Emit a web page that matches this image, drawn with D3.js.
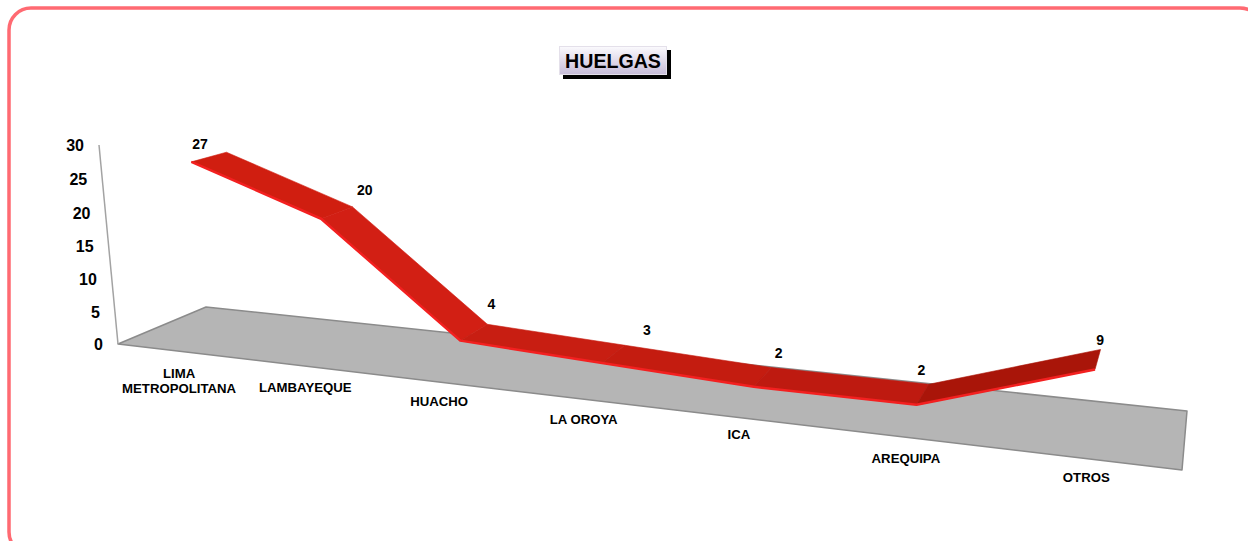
<!DOCTYPE html>
<html>
<head>
<meta charset="utf-8">
<script src="https://cdn.jsdelivr.net/npm/d3@7"></script>
<style>
    html, body { margin: 0; padding: 0; background: #fff; overflow: hidden; }
    text { font-family: "Liberation Sans", Arial, sans-serif; font-weight: bold; fill: #000; }
</style>
</head>
<body>
<script>
const categories = ['LIMA METROPOLITANA', 'LAMBAYEQUE', 'HUACHO', 'LA OROYA', 'ICA', 'AREQUIPA', 'OTROS'];
const huelgas = [27, 20, 4, 3, 2, 2, 9];
const yTicks = [0, 5, 10, 15, 20, 25, 30];
const segmentColors = ['#d01e10', '#d21f14', '#c81e12', '#c41c10', '#be1a10', '#a91509'];

const width = 1248, height = 541;

const svg = d3.select('body').append('svg')
    .attr('width', width)
    .attr('height', height);

// Scales, all in the unit box of the 3D chart
const x = d3.scaleBand().domain(categories).range([0, 1]);
const y = d3.scaleLinear().domain([0, 30]).range([0, 1]);
const depth = { front: 0.31, back: 0.71 };

// Perspective camera: floor corners and the axis top on screen, solved as a homography
const origin = [118, 344], right = [1182, 470], far = [1187, 411], back = [206, 307], top3d = [99, 145];
const sx = origin[0] - right[0] + far[0] - back[0], sy = origin[1] - right[1] + far[1] - back[1];
const d1 = [right[0] - far[0], right[1] - far[1]], d2 = [back[0] - far[0], back[1] - far[1]];
const det = d1[0] * d2[1] - d2[0] * d1[1];
const g = (sx * d2[1] - d2[0] * sy) / det;
const k = (d1[0] * sy - sx * d1[1]) / det;
const m = -0.03;

function project(u, v, h) {
    const w = 1 + g * u + k * v + m * h;
    return [0, 1].map(i => (origin[i]
        + (right[i] * (1 + g) - origin[i]) * u
        + (back[i] * (1 + k) - origin[i]) * v
        + (top3d[i] * (1 + m) - origin[i]) * h) / w);
}

const mid = c => x(c) + x.bandwidth() / 2;
const path = d3.line();

// Frame, runs off the right and bottom of the picture
svg.append('rect')
    .attr('x', 9).attr('y', 8)
    .attr('width', 1253).attr('height', 546)
    .attr('rx', 22)
    .attr('fill', '#fff')
    .attr('stroke', '#ff6a72')
    .attr('stroke-width', 3.5);

// Title
const grad = svg.append('defs').append('linearGradient')
    .attr('id', 'titleFill')
    .attr('x1', 0).attr('y1', 0).attr('x2', 0).attr('y2', 1);
grad.append('stop').attr('offset', 0).attr('stop-color', '#fbfafd');
grad.append('stop').attr('offset', 1).attr('stop-color', '#c6bcd8');

svg.append('rect')
    .attr('x', 563).attr('y', 50)
    .attr('width', 108).attr('height', 29)
    .attr('fill', '#000');
svg.append('rect')
    .attr('x', 559.5).attr('y', 46.5)
    .attr('width', 107).attr('height', 28)
    .attr('fill', 'url(#titleFill)')
    .attr('stroke', '#e4e0ea');
svg.append('text')
    .attr('x', 613).attr('y', 68)
    .attr('text-anchor', 'middle')
    .attr('font-size', 19.6)
    .text('HUELGAS');

// Floor
svg.append('path')
    .attr('d', path([project(0, 0, 0), project(1, 0, 0), project(1, 1, 0), project(0, 1, 0)]) + 'Z')
    .attr('fill', '#b5b5b5')
    .attr('stroke', '#8b8b8b')
    .attr('stroke-width', 1.5)
    .attr('stroke-linejoin', 'round');

// Y axis
svg.append('path')
    .attr('d', path([project(0, 0, y(0)), project(0, 0, y(30))]))
    .attr('stroke', '#a3a3a3')
    .attr('stroke-width', 1.5)
    .attr('fill', 'none');

svg.selectAll('.tick-label')
    .data(yTicks)
    .join('text')
    .attr('class', 'tick-label')
    .attr('x', d => project(0, 0, y(d))[0] - 15)
    .attr('y', d => project(0, 0, y(d))[1] + 6)
    .attr('text-anchor', 'end')
    .attr('font-size', 16)
    .text(d => d);

// Category labels, one line per word only for the long name
const catNudge = [[1, 4], [1, 3], [0, 1], [0, 2], [0, -2], [0, 3], [0, 0]];
svg.selectAll('.cat-label')
    .data(categories)
    .join('text')
    .attr('class', 'cat-label')
    .attr('text-anchor', 'middle')
    .attr('font-size', 13.2)
    .attr('transform', (d, i) => {
        const p = project(mid(d), 0, 0);
        return `translate(${p[0] + catNudge[i][0]},${p[1] + 23 + catNudge[i][1]})`;
    })
    .each(function (d) {
        const lines = d === categories[0] ? d.split(' ') : [d];
        d3.select(this).selectAll('tspan')
            .data(lines)
            .join('tspan')
            .attr('x', 0)
            .attr('dy', (l, i) => i ? 15 : 0)
            .text(l => l);
    });

// Ribbon
const points = categories.map((c, i) => ({
    front: project(mid(c), depth.front, y(huelgas[i])),
    back: project(mid(c), depth.back, y(huelgas[i]))
}));

svg.selectAll('.face')
    .data(d3.pairs(points))
    .join('path')
    .attr('class', 'face')
    .attr('d', ([a, b]) => path([a.back, b.back, b.front, a.front]) + 'Z')
    .attr('fill', (d, i) => segmentColors[i])
    .attr('stroke', (d, i) => segmentColors[i])
    .attr('stroke-width', 0.6);

svg.append('path')
    .attr('d', path(points.map(p => p.front)))
    .attr('fill', 'none')
    .attr('stroke', '#f32020')
    .attr('stroke-width', 2.5)
    .attr('stroke-linejoin', 'round');

// Data labels, nudged by hand in the original chart
const nudge = [[-11, -7], [26, -17], [16, -23], [32, -18], [15, -18], [-2, -18], [2, -13]];
svg.selectAll('.value-label')
    .data(huelgas)
    .join('text')
    .attr('class', 'value-label')
    .attr('x', (d, i) => project(mid(categories[i]), 0.53, y(d))[0] + nudge[i][0])
    .attr('y', (d, i) => project(mid(categories[i]), 0.53, y(d))[1] + nudge[i][1])
    .attr('text-anchor', 'middle')
    .attr('font-size', 14)
    .text(d => d);
</script>
</body>
</html>
